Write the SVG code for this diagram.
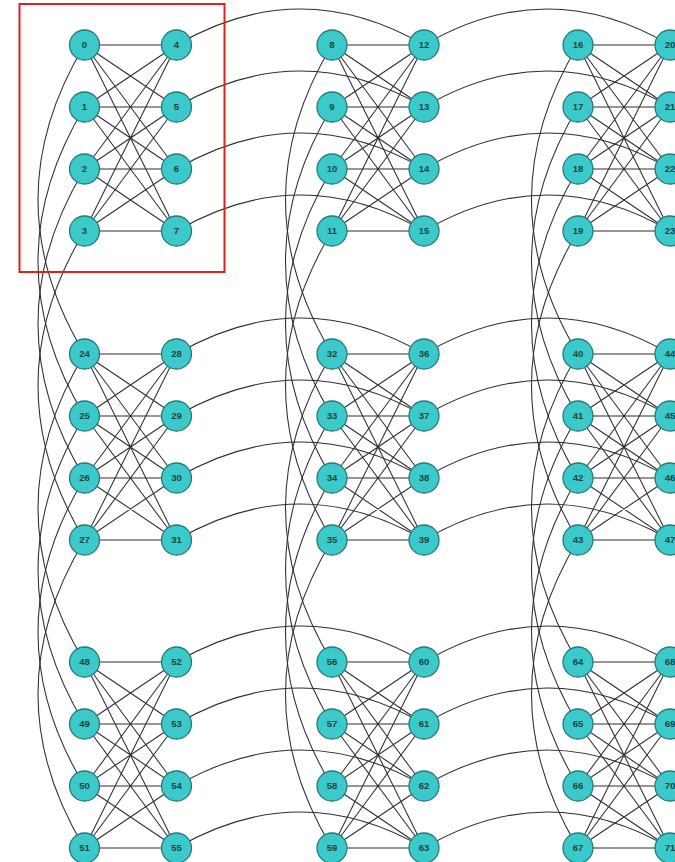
<svg xmlns="http://www.w3.org/2000/svg" xmlns:xlink="http://www.w3.org/1999/xlink" width="675" height="862" viewBox="0 0 675 862">
<style>
.e{fill:none;stroke:#2e2e2e;stroke-width:1.05}
.n circle{fill:#3cc9c9;stroke:#26797a;stroke-width:1.3}
.n text{font-family:"Liberation Sans",Arial,sans-serif;font-size:9.5px;font-weight:bold;fill:#174545;text-anchor:middle}
</style>
<defs>
<path id="k44" d="M0 0H92M0 0L92 62M0 0L92 124M0 0L92 186M0 62L92 0M0 62H92M0 62L92 124M0 62L92 186M0 124L92 0M0 124L92 62M0 124H92M0 124L92 186M0 186L92 0M0 186L92 62M0 186L92 124M0 186H92"/>
</defs>
<rect width="675" height="862" fill="#ffffff"/>
<g id="connectors" class="e">
<use xlink:href="#k44" href="#k44" x="84.5" y="45"/>
<use xlink:href="#k44" href="#k44" x="332" y="45"/>
<use xlink:href="#k44" href="#k44" x="578" y="45"/>
<use xlink:href="#k44" href="#k44" x="84.5" y="354"/>
<use xlink:href="#k44" href="#k44" x="332" y="354"/>
<use xlink:href="#k44" href="#k44" x="578" y="354"/>
<use xlink:href="#k44" href="#k44" x="84.5" y="662"/>
<use xlink:href="#k44" href="#k44" x="332" y="662"/>
<use xlink:href="#k44" href="#k44" x="578" y="662"/>
<path d="M176.5 45Q300.25 -27 424 45"/>
<path d="M176.5 107Q300.25 35 424 107"/>
<path d="M176.5 169Q300.25 97 424 169"/>
<path d="M176.5 231Q300.25 159 424 231"/>
<path d="M424 45Q547 -27 670 45"/>
<path d="M424 107Q547 35 670 107"/>
<path d="M424 169Q547 97 670 169"/>
<path d="M424 231Q547 159 670 231"/>
<path d="M176.5 354Q300.25 282 424 354"/>
<path d="M176.5 416Q300.25 344 424 416"/>
<path d="M176.5 478Q300.25 406 424 478"/>
<path d="M176.5 540Q300.25 468 424 540"/>
<path d="M424 354Q547 282 670 354"/>
<path d="M424 416Q547 344 670 416"/>
<path d="M424 478Q547 406 670 478"/>
<path d="M424 540Q547 468 670 540"/>
<path d="M176.5 662Q300.25 590 424 662"/>
<path d="M176.5 724Q300.25 652 424 724"/>
<path d="M176.5 786Q300.25 714 424 786"/>
<path d="M176.5 848Q300.25 776 424 848"/>
<path d="M424 662Q547 590 670 662"/>
<path d="M424 724Q547 652 670 724"/>
<path d="M424 786Q547 714 670 786"/>
<path d="M424 848Q547 776 670 848"/>
<path d="M84.5 45Q-8.5 199.5 84.5 354"/>
<path d="M84.5 107Q-8.5 261.5 84.5 416"/>
<path d="M84.5 169Q-8.5 323.5 84.5 478"/>
<path d="M84.5 231Q-8.5 385.5 84.5 540"/>
<path d="M84.5 354Q-8.5 508 84.5 662"/>
<path d="M84.5 416Q-8.5 570 84.5 724"/>
<path d="M84.5 478Q-8.5 632 84.5 786"/>
<path d="M84.5 540Q-8.5 694 84.5 848"/>
<path d="M332 45Q239 199.5 332 354"/>
<path d="M332 107Q239 261.5 332 416"/>
<path d="M332 169Q239 323.5 332 478"/>
<path d="M332 231Q239 385.5 332 540"/>
<path d="M332 354Q239 508 332 662"/>
<path d="M332 416Q239 570 332 724"/>
<path d="M332 478Q239 632 332 786"/>
<path d="M332 540Q239 694 332 848"/>
<path d="M578 45Q485 199.5 578 354"/>
<path d="M578 107Q485 261.5 578 416"/>
<path d="M578 169Q485 323.5 578 478"/>
<path d="M578 231Q485 385.5 578 540"/>
<path d="M578 354Q485 508 578 662"/>
<path d="M578 416Q485 570 578 724"/>
<path d="M578 478Q485 632 578 786"/>
<path d="M578 540Q485 694 578 848"/>
</g>
<g class="n">
<g id="n0"><circle cx="84.5" cy="45" r="15"/><text x="84.5" y="45" dy=".35em">0</text></g>
<g id="n1"><circle cx="84.5" cy="107" r="15"/><text x="84.5" y="107" dy=".35em">1</text></g>
<g id="n2"><circle cx="84.5" cy="169" r="15"/><text x="84.5" y="169" dy=".35em">2</text></g>
<g id="n3"><circle cx="84.5" cy="231" r="15"/><text x="84.5" y="231" dy=".35em">3</text></g>
<g id="n4"><circle cx="176.5" cy="45" r="15"/><text x="176.5" y="45" dy=".35em">4</text></g>
<g id="n5"><circle cx="176.5" cy="107" r="15"/><text x="176.5" y="107" dy=".35em">5</text></g>
<g id="n6"><circle cx="176.5" cy="169" r="15"/><text x="176.5" y="169" dy=".35em">6</text></g>
<g id="n7"><circle cx="176.5" cy="231" r="15"/><text x="176.5" y="231" dy=".35em">7</text></g>
<g id="n8"><circle cx="332" cy="45" r="15"/><text x="332" y="45" dy=".35em">8</text></g>
<g id="n9"><circle cx="332" cy="107" r="15"/><text x="332" y="107" dy=".35em">9</text></g>
<g id="n10"><circle cx="332" cy="169" r="15"/><text x="332" y="169" dy=".35em">10</text></g>
<g id="n11"><circle cx="332" cy="231" r="15"/><text x="332" y="231" dy=".35em">11</text></g>
<g id="n12"><circle cx="424" cy="45" r="15"/><text x="424" y="45" dy=".35em">12</text></g>
<g id="n13"><circle cx="424" cy="107" r="15"/><text x="424" y="107" dy=".35em">13</text></g>
<g id="n14"><circle cx="424" cy="169" r="15"/><text x="424" y="169" dy=".35em">14</text></g>
<g id="n15"><circle cx="424" cy="231" r="15"/><text x="424" y="231" dy=".35em">15</text></g>
<g id="n16"><circle cx="578" cy="45" r="15"/><text x="578" y="45" dy=".35em">16</text></g>
<g id="n17"><circle cx="578" cy="107" r="15"/><text x="578" y="107" dy=".35em">17</text></g>
<g id="n18"><circle cx="578" cy="169" r="15"/><text x="578" y="169" dy=".35em">18</text></g>
<g id="n19"><circle cx="578" cy="231" r="15"/><text x="578" y="231" dy=".35em">19</text></g>
<g id="n20"><circle cx="670" cy="45" r="15"/><text x="670" y="45" dy=".35em">20</text></g>
<g id="n21"><circle cx="670" cy="107" r="15"/><text x="670" y="107" dy=".35em">21</text></g>
<g id="n22"><circle cx="670" cy="169" r="15"/><text x="670" y="169" dy=".35em">22</text></g>
<g id="n23"><circle cx="670" cy="231" r="15"/><text x="670" y="231" dy=".35em">23</text></g>
<g id="n24"><circle cx="84.5" cy="354" r="15"/><text x="84.5" y="354" dy=".35em">24</text></g>
<g id="n25"><circle cx="84.5" cy="416" r="15"/><text x="84.5" y="416" dy=".35em">25</text></g>
<g id="n26"><circle cx="84.5" cy="478" r="15"/><text x="84.5" y="478" dy=".35em">26</text></g>
<g id="n27"><circle cx="84.5" cy="540" r="15"/><text x="84.5" y="540" dy=".35em">27</text></g>
<g id="n28"><circle cx="176.5" cy="354" r="15"/><text x="176.5" y="354" dy=".35em">28</text></g>
<g id="n29"><circle cx="176.5" cy="416" r="15"/><text x="176.5" y="416" dy=".35em">29</text></g>
<g id="n30"><circle cx="176.5" cy="478" r="15"/><text x="176.5" y="478" dy=".35em">30</text></g>
<g id="n31"><circle cx="176.5" cy="540" r="15"/><text x="176.5" y="540" dy=".35em">31</text></g>
<g id="n32"><circle cx="332" cy="354" r="15"/><text x="332" y="354" dy=".35em">32</text></g>
<g id="n33"><circle cx="332" cy="416" r="15"/><text x="332" y="416" dy=".35em">33</text></g>
<g id="n34"><circle cx="332" cy="478" r="15"/><text x="332" y="478" dy=".35em">34</text></g>
<g id="n35"><circle cx="332" cy="540" r="15"/><text x="332" y="540" dy=".35em">35</text></g>
<g id="n36"><circle cx="424" cy="354" r="15"/><text x="424" y="354" dy=".35em">36</text></g>
<g id="n37"><circle cx="424" cy="416" r="15"/><text x="424" y="416" dy=".35em">37</text></g>
<g id="n38"><circle cx="424" cy="478" r="15"/><text x="424" y="478" dy=".35em">38</text></g>
<g id="n39"><circle cx="424" cy="540" r="15"/><text x="424" y="540" dy=".35em">39</text></g>
<g id="n40"><circle cx="578" cy="354" r="15"/><text x="578" y="354" dy=".35em">40</text></g>
<g id="n41"><circle cx="578" cy="416" r="15"/><text x="578" y="416" dy=".35em">41</text></g>
<g id="n42"><circle cx="578" cy="478" r="15"/><text x="578" y="478" dy=".35em">42</text></g>
<g id="n43"><circle cx="578" cy="540" r="15"/><text x="578" y="540" dy=".35em">43</text></g>
<g id="n44"><circle cx="670" cy="354" r="15"/><text x="670" y="354" dy=".35em">44</text></g>
<g id="n45"><circle cx="670" cy="416" r="15"/><text x="670" y="416" dy=".35em">45</text></g>
<g id="n46"><circle cx="670" cy="478" r="15"/><text x="670" y="478" dy=".35em">46</text></g>
<g id="n47"><circle cx="670" cy="540" r="15"/><text x="670" y="540" dy=".35em">47</text></g>
<g id="n48"><circle cx="84.5" cy="662" r="15"/><text x="84.5" y="662" dy=".35em">48</text></g>
<g id="n49"><circle cx="84.5" cy="724" r="15"/><text x="84.5" y="724" dy=".35em">49</text></g>
<g id="n50"><circle cx="84.5" cy="786" r="15"/><text x="84.5" y="786" dy=".35em">50</text></g>
<g id="n51"><circle cx="84.5" cy="848" r="15"/><text x="84.5" y="848" dy=".35em">51</text></g>
<g id="n52"><circle cx="176.5" cy="662" r="15"/><text x="176.5" y="662" dy=".35em">52</text></g>
<g id="n53"><circle cx="176.5" cy="724" r="15"/><text x="176.5" y="724" dy=".35em">53</text></g>
<g id="n54"><circle cx="176.5" cy="786" r="15"/><text x="176.5" y="786" dy=".35em">54</text></g>
<g id="n55"><circle cx="176.5" cy="848" r="15"/><text x="176.5" y="848" dy=".35em">55</text></g>
<g id="n56"><circle cx="332" cy="662" r="15"/><text x="332" y="662" dy=".35em">56</text></g>
<g id="n57"><circle cx="332" cy="724" r="15"/><text x="332" y="724" dy=".35em">57</text></g>
<g id="n58"><circle cx="332" cy="786" r="15"/><text x="332" y="786" dy=".35em">58</text></g>
<g id="n59"><circle cx="332" cy="848" r="15"/><text x="332" y="848" dy=".35em">59</text></g>
<g id="n60"><circle cx="424" cy="662" r="15"/><text x="424" y="662" dy=".35em">60</text></g>
<g id="n61"><circle cx="424" cy="724" r="15"/><text x="424" y="724" dy=".35em">61</text></g>
<g id="n62"><circle cx="424" cy="786" r="15"/><text x="424" y="786" dy=".35em">62</text></g>
<g id="n63"><circle cx="424" cy="848" r="15"/><text x="424" y="848" dy=".35em">63</text></g>
<g id="n64"><circle cx="578" cy="662" r="15"/><text x="578" y="662" dy=".35em">64</text></g>
<g id="n65"><circle cx="578" cy="724" r="15"/><text x="578" y="724" dy=".35em">65</text></g>
<g id="n66"><circle cx="578" cy="786" r="15"/><text x="578" y="786" dy=".35em">66</text></g>
<g id="n67"><circle cx="578" cy="848" r="15"/><text x="578" y="848" dy=".35em">67</text></g>
<g id="n68"><circle cx="670" cy="662" r="15"/><text x="670" y="662" dy=".35em">68</text></g>
<g id="n69"><circle cx="670" cy="724" r="15"/><text x="670" y="724" dy=".35em">69</text></g>
<g id="n70"><circle cx="670" cy="786" r="15"/><text x="670" y="786" dy=".35em">70</text></g>
<g id="n71"><circle cx="670" cy="848" r="15"/><text x="670" y="848" dy=".35em">71</text></g>
</g>
<rect id="highlight" x="19.5" y="4" width="205" height="268" fill="none" stroke="#e0201c" stroke-width="2"/>
</svg>
